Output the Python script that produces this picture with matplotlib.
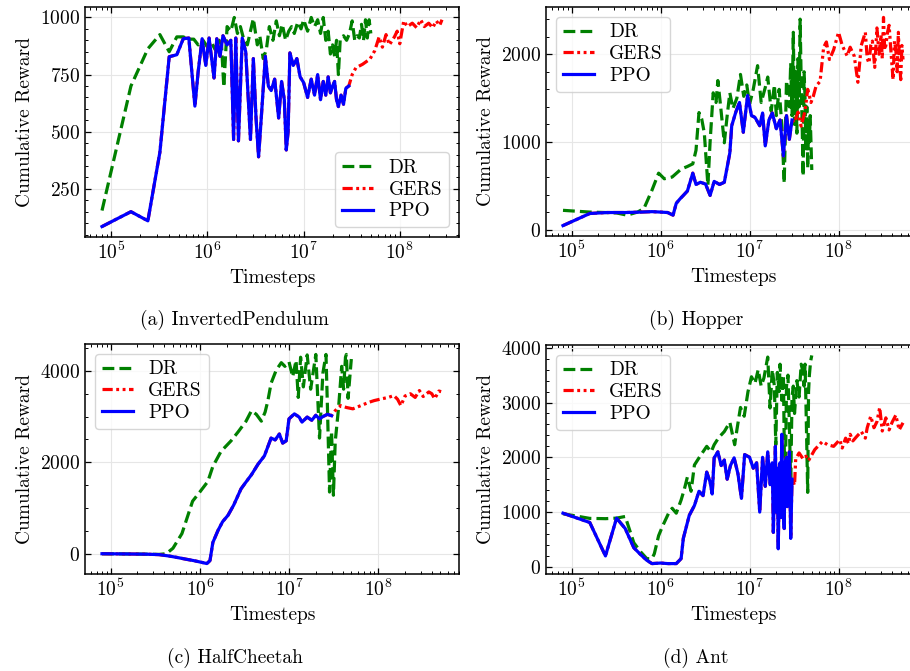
import matplotlib
matplotlib.use("Agg")
import matplotlib.pyplot as plt
import matplotlib.ticker as mticker

plt.rcParams.update({
    "font.family": "serif",
    "font.serif": ["cmr10"],
    "mathtext.fontset": "cm",
    "axes.formatter.use_mathtext": True,
    "axes.unicode_minus": False,
    "font.size": 14,
})

# ---------------- (a) InvertedPendulum ----------------
pend_dr_x = [8e4, 1.6e5, 2.4e5, 3.2e5, 4e5, 4.8e5, 5.6e5, 6.4e5, 7.2e5, 8e5,
             9e5, 1e6, 1.1e6, 1.2e6, 1.3e6, 1.4e6, 1.48e6, 1.6e6, 1.75e6, 1.9e6,
             2.05e6, 2.2e6, 2.4e6, 2.6e6, 2.8e6, 3e6, 3.3e6, 3.5e6, 3.8e6, 4.1e6,
             4.4e6, 4.8e6, 5.2e6, 5.6e6, 6e6, 6.5e6, 7e6, 7.5e6, 8e6, 8.7e6,
             9.4e6, 1e7, 1.1e7, 1.2e7, 1.3e7, 1.4e7, 1.5e7, 1.6e7, 1.7e7, 1.8e7,
             1.9e7, 2e7, 2.1e7, 2.2e7, 2.3e7, 2.4e7, 2.6e7, 2.8e7, 3e7, 3.2e7,
             3.4e7, 3.6e7, 3.8e7, 4e7, 4.2e7, 4.4e7, 4.6e7, 4.8e7, 5e7]
pend_dr_y = [155, 700, 863, 925, 850, 915, 915, 905, 905, 880,
             900, 870, 890, 860, 905, 880, 695, 960, 940, 1000,
             930, 960, 900, 880, 940, 995, 880, 920, 820, 860,
             960, 900, 985, 920, 970, 900, 940, 960, 930, 980,
             950, 990, 940, 1000, 960, 990, 930, 1000, 900, 940,
             840, 880, 830, 900, 750, 900, 920, 900, 930, 985,
             900, 920, 910, 970, 900, 990, 910, 990, 930]
pend_ppo_x = [8e4, 1.6e5, 2.4e5, 3.2e5, 4e5, 4.8e5, 5.6e5, 6.4e5, 7.4e5, 8e5,
              8.8e5, 9.6e5, 1.04e6, 1.17e6, 1.25e6, 1.35e6, 1.45e6, 1.6e6, 1.75e6, 1.87e6,
              1.97e6, 2.1e6, 2.3e6, 2.5e6, 2.8e6, 3e6, 3.2e6, 3.4e6, 3.6e6, 4e6,
              4.3e6, 4.6e6, 5e6, 5.5e6, 5.9e6, 6.3e6, 6.6e6, 6.9e6, 7.2e6, 7.8e6,
              8.5e6, 9.2e6, 1e7, 1.1e7, 1.2e7, 1.3e7, 1.4e7, 1.5e7, 1.6e7, 1.7e7,
              1.8e7, 1.9e7, 2e7, 2.1e7, 2.2e7, 2.3e7, 2.45e7, 2.6e7, 2.75e7, 2.95e7]
pend_ppo_y = [85, 150, 110, 410, 828, 837, 907, 910, 612, 762,
              907, 790, 910, 735, 907, 830, 920, 880, 900, 466,
              910, 460, 910, 850, 466, 820, 560, 390, 540, 830,
              700, 680, 730, 560, 720, 640, 420, 500, 845, 790,
              820, 740, 715, 650, 730, 660, 750, 640, 720, 660,
              740, 670, 700, 720, 640, 610, 660, 620, 690, 700]
pend_gers_x = [3.2e7, 3.5e7, 4.1e7, 4.9e7, 5.5e7, 6.1e7, 6.6e7, 7.2e7, 7.8e7, 8.8e7,
               9.4e7, 1e8, 1.1e8, 1.2e8, 1.35e8, 1.5e8, 1.65e8, 1.8e8, 2e8, 2.2e8,
               2.4e8, 2.6e8, 2.75e8]
pend_gers_y = [750, 780, 795, 818, 855, 915, 870, 925, 880, 915,
               940, 885, 985, 960, 975, 955, 990, 960, 975, 955,
               985, 965, 990]

# ---------------- (b) Hopper ----------------
hop_dr_x = [8e4, 1.6e5, 2.4e5, 3.2e5, 4.2e5, 5.5e5, 6.5e5, 8e5, 9.5e5, 1.1e6,
            1.35e6, 1.7e6, 2e6, 2.3e6, 2.5e6, 2.7e6, 2.9e6, 3.1e6, 3.4e6, 3.6e6,
            3.9e6, 4.2e6, 4.4e6, 4.7e6, 5.2e6, 5.6e6, 6e6, 6.5e6, 7.2e6, 7.9e6,
            8.6e6, 9.3e6, 1e7, 1.1e7, 1.23e7, 1.35e7, 1.5e7, 1.6e7, 1.75e7, 1.9e7,
            2e7, 2.15e7, 2.3e7, 2.45e7, 2.6e7, 2.8e7, 2.9e7, 3e7, 3.1e7, 3.2e7,
            3.3e7, 3.4e7, 3.5e7, 3.6e7, 3.7e7, 3.8e7, 3.9e7, 4e7, 4.1e7, 4.2e7,
            4.3e7, 4.4e7, 4.5e7, 4.6e7, 4.7e7, 4.8e7, 5e7]
hop_dr_y = [220, 200, 195, 190, 165, 200, 241, 450, 644, 580,
            600, 690, 720, 750, 905, 1335, 1260, 1100, 505, 1000,
            1560, 1450, 1700, 1430, 990, 1300, 1560, 1380, 1500, 1770,
            1520, 1650, 1430, 1600, 1870, 1450, 1620, 1740, 1350, 1650,
            1300, 1600, 1200, 530, 1700, 1400, 1900, 1300, 2250, 1200,
            1800, 1100, 1950, 1400, 2400, 1700, 1200, 610, 1800, 1500,
            900, 1400, 700, 1200, 1000, 1300, 680]
hop_ppo_x = [8e4, 1.6e5, 2.5e5, 4e5, 6e5, 8e5, 1e6, 1.2e6, 1.38e6, 1.5e6,
             1.65e6, 1.8e6, 2e6, 2.3e6, 2.5e6, 2.8e6, 3.2e6, 3.6e6, 4e6, 4.6e6,
             5.2e6, 6e6, 6.3e6, 7e6, 7.7e6, 8.5e6, 9.5e6, 1.05e7, 1.15e7, 1.3e7,
             1.4e7, 1.5e7, 1.65e7, 1.8e7, 2e7, 2.2e7, 2.4e7, 2.6e7, 2.8e7, 3e7]
hop_ppo_y = [46, 184, 195, 195, 200, 205, 200, 195, 165, 300,
             350, 390, 440, 644, 515, 540, 520, 390, 550, 515,
             540, 875, 1185, 1340, 1450, 1110, 1530, 1300, 1280, 1185,
             1330, 955, 1250, 1330, 1150, 1250, 840, 1300, 1030, 1250]
hop_gers_x = [3.2e7, 3.5e7, 3.8e7, 4.2e7, 4.5e7, 4.9e7, 5.2e7, 5.6e7, 6.2e7, 6.8e7,
              7.3e7, 7.9e7, 8.8e7, 1e8, 1.1e8, 1.25e8, 1.35e8, 1.5e8, 1.65e8, 1.8e8,
              2e8, 2.1e8, 2.2e8, 2.3e8, 2.4e8, 2.55e8, 2.7e8, 2.85e8, 3e8, 3.1e8,
              3.2e8, 3.3e8, 3.4e8, 3.55e8, 3.7e8, 3.9e8, 4.1e8, 4.25e8, 4.4e8, 4.55e8,
              4.7e8, 4.85e8, 5e8, 5.15e8, 5.3e8]
hop_gers_y = [1220, 1340, 1180, 1350, 1600, 1450, 1520, 1640, 1690, 2080,
              2140, 1940, 2050, 2250, 2100, 1980, 2080, 1980, 1680, 2100,
              2250, 1950, 1900, 2100, 2150, 1850, 2300, 2000, 2220, 1950,
              2420, 2050, 2100, 2250, 2330, 2000, 1710, 2150, 2050, 1800,
              2250, 1900, 1710, 2100, 1940]

# ---------------- (c) HalfCheetah ----------------
hc_dr_x = [8e4, 1.5e5, 2.5e5, 3.5e5, 4.2e5, 5e5, 6.3e5, 8.3e5, 1e6, 1.23e6,
           1.4e6, 1.73e6, 2.24e6, 2.7e6, 3.3e6, 3.8e6, 4.3e6, 4.9e6, 5.4e6, 5.8e6,
           6.3e6, 7.2e6, 8.2e6, 9e6, 1e7, 1.1e7, 1.2e7, 1.27e7, 1.35e7, 1.45e7,
           1.6e7, 1.75e7, 2e7, 2.2e7, 2.4e7, 2.6e7, 2.7e7, 2.85e7, 3e7, 3.15e7,
           3.3e7, 3.6e7, 3.9e7, 4.1e7, 4.3e7, 4.4e7, 4.6e7, 5e7]
hc_dr_y = [0, -5, -10, -15, 0, 120, 440, 1150, 1350, 1580,
           1910, 2240, 2470, 2670, 2900, 3130, 3050, 2900, 3100, 3350,
           3730, 4020, 4180, 4100, 4200, 3870, 4230, 3420, 4300, 3650,
           4350, 3600, 4360, 2530, 3950, 4360, 3200, 1350, 2680, 1280,
           2450, 3200, 4100, 3600, 4300, 4360, 3400, 4260]
hc_ppo_x = [8e4, 1.5e5, 2.5e5, 3.5e5, 4.5e5, 5.5e5, 7e5, 8.5e5, 1e6, 1.2e6,
            1.3e6, 1.4e6, 1.6e6, 1.8e6, 2.07e6, 2.4e6, 2.9e6, 3.3e6, 3.8e6, 4.5e6,
            5.3e6, 6.3e6, 7e6, 7.8e6, 8.5e6, 9.3e6, 1e7, 1.15e7, 1.3e7, 1.4e7,
            1.6e7, 1.8e7, 2e7, 2.2e7, 2.4e7, 2.7e7, 3e7]
hc_ppo_y = [0, -5, -10, -20, -50, -80, -120, -150, -180, -215,
            -150, 245, 510, 700, 840, 1065, 1420, 1570, 1730, 1960,
            2140, 2530, 2490, 2620, 2420, 2470, 2950, 3060, 2990, 2880,
            2990, 2920, 3030, 2950, 3000, 3050, 3020]
hc_gers_x = [3.3e7, 3.8e7, 4.4e7, 5.2e7, 6.2e7, 7.8e7, 9e7, 1.1e8, 1.3e8, 1.5e8,
             1.65e8, 1.8e8, 2e8, 2.3e8, 2.6e8, 2.9e8, 3.2e8, 3.7e8, 4e8, 4.3e8,
             4.8e8, 5.2e8]
hc_gers_y = [3130, 3240, 3200, 3170, 3230, 3310, 3350, 3390, 3420, 3460,
             3380, 3240, 3450, 3500, 3420, 3570, 3440, 3540, 3500, 3390,
             3560, 3540]

# ---------------- (d) Ant ----------------
ant_dr_x = [8e4, 1.6e5, 2.4e5, 3.2e5, 4e5, 5e5, 6e5, 7e5, 8e5, 8.5e5,
            9.5e5, 1.05e6, 1.23e6, 1.35e6, 1.5e6, 1.7e6, 1.85e6, 2e6, 2.2e6, 2.4e6,
            2.8e6, 3.3e6, 3.7e6, 4e6, 4.5e6, 5.2e6, 6e6, 6.8e6, 7.2e6, 7.9e6,
            8.7e6, 9.6e6, 1.05e7, 1.15e7, 1.25e7, 1.35e7, 1.45e7, 1.6e7, 1.7e7, 1.8e7,
            1.9e7, 1.97e7, 2.05e7, 2.15e7, 2.2e7, 2.3e7, 2.4e7, 2.5e7, 2.6e7, 2.7e7,
            2.8e7, 2.9e7, 3e7, 3.1e7, 3.2e7, 3.4e7, 3.6e7, 3.8e7, 3.9e7, 4.1e7,
            4.2e7, 4.3e7, 4.5e7, 4.6e7, 4.7e7, 4.85e7, 5e7]
ant_dr_y = [970, 885, 880, 890, 920, 440, 270, 150, 150, 240,
            570, 740, 980, 1070, 980, 1220, 1420, 1640, 1380, 1860,
            2030, 2200, 2100, 2230, 2360, 2470, 2640, 2230, 2500, 2910,
            2750, 3200, 3470, 3350, 3600, 3300, 3450, 3830, 2900, 3600,
            3300, 2230, 3550, 3200, 3700, 3040, 3500, 1130, 3300, 3500,
            2600, 1500, 3100, 3300, 2800, 3400, 3100, 3700, 3620, 3300,
            3700, 3000, 1360, 3200, 3500, 3750, 3860]
ant_ppo_x = [8e4, 1.6e5, 2.4e5, 3.2e5, 4e5, 5e5, 6e5, 7e5, 8e5, 1e6,
             1.2e6, 1.5e6, 1.7e6, 1.8e6, 2.1e6, 2.4e6, 2.7e6, 3e6, 3.3e6, 3.6e6,
             3.8e6, 4e6, 4.4e6, 4.8e6, 5.2e6, 5.6e6, 6.1e6, 6.7e6, 7.4e6, 8.1e6,
             8.8e6, 1e7, 1.1e7, 1.2e7, 1.3e7, 1.4e7, 1.5e7, 1.6e7, 1.7e7, 1.8e7,
             1.85e7, 1.95e7, 2e7, 2.05e7, 2.1e7, 2.15e7, 2.2e7, 2.25e7, 2.3e7, 2.35e7,
             2.45e7, 2.5e7, 2.6e7, 2.65e7, 2.75e7, 2.8e7, 2.9e7, 3e7]
ant_ppo_y = [980, 810, 200, 890, 700, 350, 220, 120, 60, 70,
             60, 60, 150, 520, 940, 1120, 1380, 1300, 1730, 1550,
             1330, 1990, 2100, 1850, 1950, 1600, 1850, 1990, 1700, 1250,
             2050, 2000, 1800, 1900, 1000, 2000, 1470, 2100, 1500, 1900,
             630, 2200, 1000, 1800, 330, 1500, 1900, 900, 2420, 1400,
             700, 1900, 2000, 1100, 1300, 2100, 520, 1600]
ant_gers_x = [3.2e7, 3.3e7, 3.6e7, 4e7, 4.3e7, 4.6e7, 5.4e7, 6.6e7, 7.5e7, 8.8e7,
              1.03e8, 1.1e8, 1.2e8, 1.3e8, 1.35e8, 1.45e8, 1.6e8, 1.8e8, 2e8, 2.1e8,
              2.3e8, 2.5e8, 2.7e8, 2.9e8, 3.1e8, 3.4e8, 3.7e8, 4e8, 4.4e8, 4.8e8,
              5.3e8]
ant_gers_y = [1490, 1970, 2080, 1970, 2020, 1940, 2140, 2290, 2230, 2200,
              2320, 2170, 2350, 2250, 2420, 2300, 2380, 2470, 2350, 2540,
              2750, 2540, 2650, 2910, 2480, 2720, 2500, 2640, 2770, 2500,
              2630]

panels = [
    ("(a) InvertedPendulum", pend_dr_x, pend_dr_y, pend_ppo_x, pend_ppo_y, pend_gers_x, pend_gers_y, "lower right"),
    ("(b) Hopper", hop_dr_x, hop_dr_y, hop_ppo_x, hop_ppo_y, hop_gers_x, hop_gers_y, "upper left"),
    ("(c) HalfCheetah", hc_dr_x, hc_dr_y, hc_ppo_x, hc_ppo_y, hc_gers_x, hc_gers_y, "upper left"),
    ("(d) Ant", ant_dr_x, ant_dr_y, ant_ppo_x, ant_ppo_y, ant_gers_x, ant_gers_y, "upper left"),
]

W, H = 910, 671
fig = plt.figure(figsize=(W / 100, H / 100), dpi=100)

# axes boxes in pixels: left, top, right, bottom
boxes = [(85, 7, 459, 237), (546, 7, 920, 236), (85, 344, 459, 574), (546, 345, 920, 574)]
caption_pos = [(234, 320), (696, 320), (235, 658), (696, 658)]

for (title, dx, dy, px, py, gx, gy, loc), (l, t, r, b), (cx, cy) in zip(panels, boxes, caption_pos):
    ax = fig.add_axes([l / W, 1 - b / H, (r - l) / W, (b - t) / H])
    ax.plot(dx, dy, color="green", ls="--", lw=2.3, label="DR")
    ax.plot(px + gx, py + gy, color="red", lw=2.3, dashes=(3.2, 1.1, 0.9, 1.1, 0.9, 1.1), label="GERS")
    ax.plot(px, py, color="blue", lw=2.3, label="PPO")
    ax.set_xscale("log")
    ax.set_xlabel("Timesteps")
    ax.set_ylabel("Cumulative Reward")
    ax.yaxis.set_minor_locator(mticker.AutoMinorLocator())
    ax.grid(True, which="major", color="#e6e6e6", lw=0.8)
    ax.set_axisbelow(True)
    ax.tick_params(which="both", direction="in", top=True, right=True)
    ax.tick_params(which="major", length=4.5, width=0.9)
    ax.tick_params(which="minor", length=2.5, width=0.7)
    for s in ax.spines.values():
        s.set_linewidth(1.1)
    ax.legend(loc=loc, fancybox=True, framealpha=0.8, edgecolor="#cccccc",
              handlelength=1.6, handletextpad=0.8, labelspacing=0.2, borderpad=0.35)
    fig.text(cx / W, 1 - cy / H, title, ha="center", va="center")

fig.savefig("out.png", dpi=100)
